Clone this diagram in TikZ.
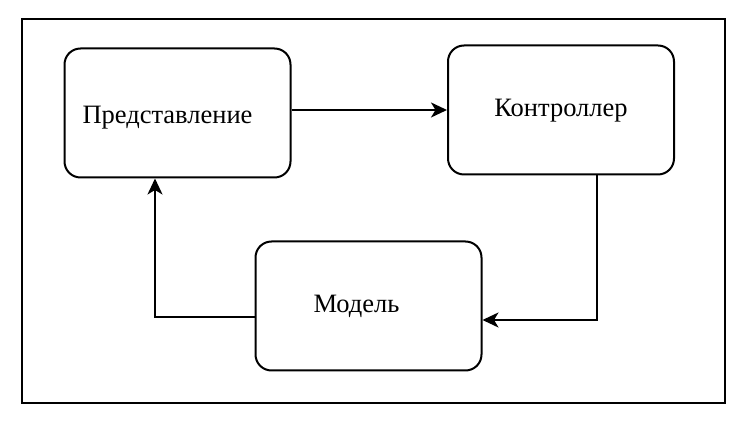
\documentclass[tikz,border=0pt]{standalone}
\usepackage{fontspec}
\setmainfont{Liberation Serif}
\usepackage{tikz}
\usetikzlibrary{arrows.meta,calc,positioning}
\tikzset{
  frame/.style={draw, line width=2.4pt},
  mvcbox/.style={draw, rounded corners=16pt, line width=2pt, minimum width=226pt, minimum height=129pt, text height=20pt, text depth=6pt, font=\fontsize{26.5}{30}\selectfont},
  link/.style={draw, line width=2pt, -{Stealth[length=16pt, width=15pt, inset=4.5pt]}}
}

\begin{document}
\begin{tikzpicture}[x=1pt, y=-1pt]
  \useasboundingbox (0,0) rectangle (748,435);
  \draw[frame] (22,19) rectangle (725,403);
  % the three parts
  \node[mvcbox, text height=28pt] (view) at (177.5,113) {Представление\hspace*{20pt}};
  \node[mvcbox] (ctrl) at (561,110) {Контроллер};
  \node[mvcbox] (model) at (368.5,306) {Модель\hspace*{24pt}};
  % connections
  \draw[link] (view.east |- 0,110) -- (ctrl.west |- 0,110);
  \draw[link] (ctrl.south -| 597,0) |- (model.east |- 0,320);
  \draw[link] (model.west |- 0,317) -| (view.south -| 155,0);
\end{tikzpicture}
\end{document}
